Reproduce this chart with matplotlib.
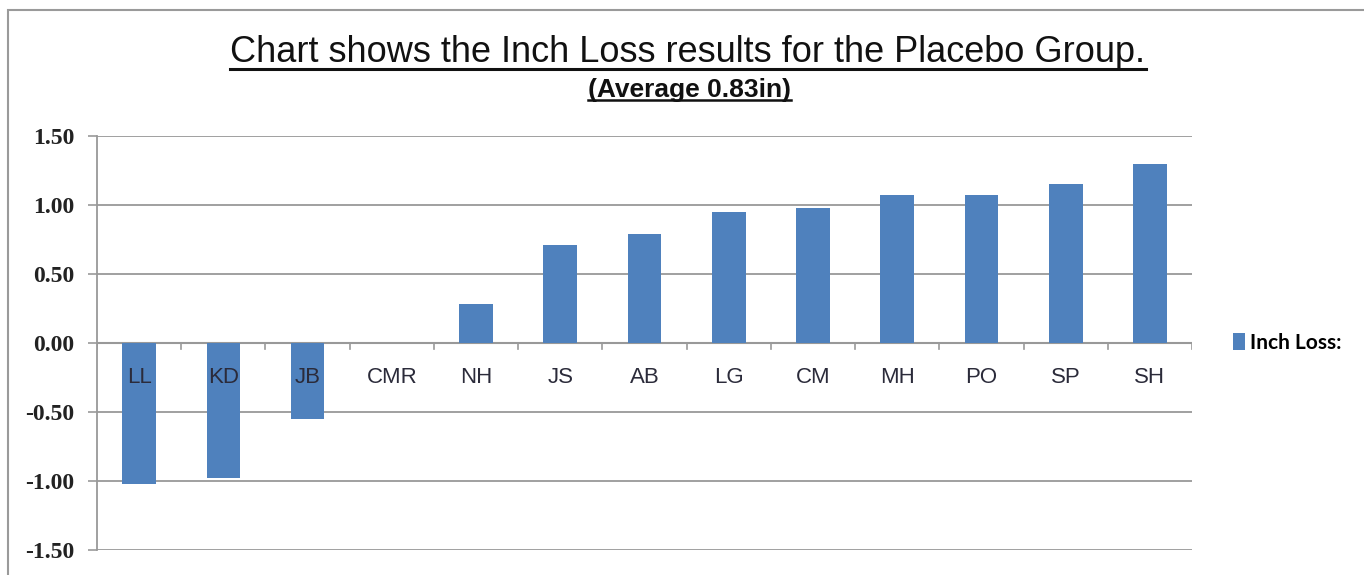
import matplotlib
matplotlib.use("Agg")
import matplotlib.pyplot as plt
from matplotlib.patches import Rectangle
from matplotlib.lines import Line2D

# values
names = ["LL", "KD", "JB", "CMR", "NH", "JS", "AB", "LG", "CM", "MH", "PO", "SP", "SH"]
inch_loss = [-1.02, -0.98, -0.55, 0.0, 0.28, 0.71, 0.79, 0.95, 0.98, 1.07, 1.07, 1.15, 1.30]
yticks = [-1.5, -1.0, -0.5, 0.0, 0.5, 1.0, 1.5]

fig = plt.figure(figsize=(13.64, 5.75), dpi=100)
ax = fig.add_axes([97 / 1364, 1 - 550 / 575, (1192 - 97) / 1364, (550 - 136) / 575])

x = list(range(len(names)))
bars = ax.bar(x, inch_loss, width=0.4, color="#4F81BD", zorder=3, label="Inch Loss:")

ax.set_xlim(-0.5, len(names) - 0.5)
ax.set_ylim(-1.5, 1.5)
ax.set_yticks(yticks)
ax.set_yticklabels(["%.2f" % v for v in yticks], family="Liberation Serif",
                   fontsize=17, fontweight="bold", color="#222222")
ax.yaxis.grid(True, color="#999999", linewidth=1.3, zorder=0)
ax.tick_params(axis="y", length=6.5, color="#999999", width=1.2, pad=10)

# category labels sit just under the zero line
ax.set_xticks([])
for i, n in enumerate(names):
    ax.text(i, -0.25, n, ha="center", va="center", fontsize=16,
            family="Liberation Sans", color="#2b2b3a", zorder=4)
# category boundary ticks hanging from the zero line
for b in range(len(names) + 1):
    ax.plot([b - 0.5, b - 0.5], [0, -0.045], color="#999999", lw=1.2, zorder=2)
ax.axhline(0, color="#999999", lw=1.5, zorder=2)

for s in ["top", "right", "bottom"]:
    ax.spines[s].set_visible(False)
ax.spines["left"].set_color("#999999")
ax.spines["left"].set_linewidth(1.3)

# legend on the right
leg = fig.legend(handles=[bars], labels=["Inch Loss:"], loc="center left",
                 bbox_to_anchor=(1214 / 1364, 1 - 343 / 575), frameon=False,
                 prop={"family": "Lato", "weight": "bold", "size": 15},
                 handlelength=0.6, handleheight=0.9, handletextpad=0.25)

# title and subtitle, underlined
t1 = fig.text(688 / 1364, 1 - 53 / 575, "Chart shows the Inch Loss results for the Placebo Group.",
              ha="center", va="center", fontsize=26, family="Liberation Sans",
              color="#111111")
t2 = fig.text(689 / 1364, 1 - 90 / 575, "(Average 0.83in)", ha="center", va="center",
              fontsize=19, fontweight="bold", family="Liberation Sans", color="#111111")

# outer chart border (left and top edges show, the rest runs off the image)
fig.patches.append(Rectangle((8 / 1364, -0.05), 1.1, 1 - 10 / 575 + 0.05,
                             transform=fig.transFigure, fill=False,
                             edgecolor="#9a9a9a", linewidth=1.5))

fig.canvas.draw()
r = fig.canvas.get_renderer()
inv = fig.transFigure.inverted()
for t, lw in [(t1, 2.2), (t2, 1.8)]:
    bb = t.get_window_extent(r)
    (x0, y0), (x1, y1) = inv.transform([[bb.x0, bb.y0], [bb.x1, bb.y1]])
    fig.lines.append(Line2D([x0, x1], [y0 + 0.003, y0 + 0.003], transform=fig.transFigure,
                            color="#111111", linewidth=lw))

fig.savefig("out.png", dpi=100)
